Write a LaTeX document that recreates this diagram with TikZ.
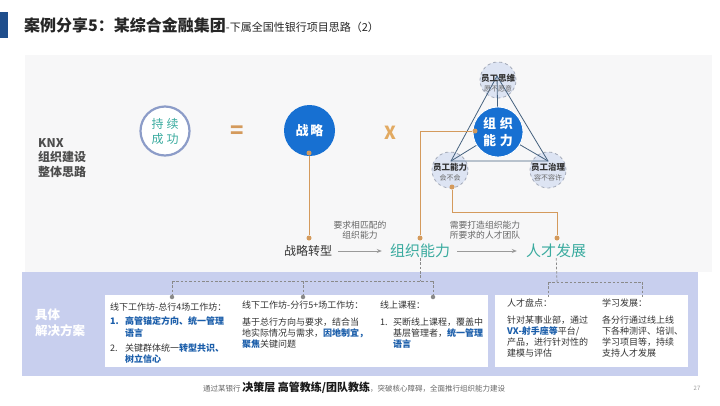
\documentclass[tikz,border=0pt]{standalone}
\usepackage{fontspec}
\setmainfont{Noto Sans CJK SC}
\usetikzlibrary{arrows.meta}
\definecolor{titleblue}{HTML}{1F4E8C}
\definecolor{bggray}{HTML}{F7F7F8}
\definecolor{ringblue}{HTML}{8C9CC8}
\definecolor{tealc}{HTML}{3AAB9F}
\definecolor{tanc}{HTML}{D49A5C}
\definecolor{xtan}{HTML}{E2AA62}
\definecolor{stratblue}{HTML}{1770D2}
\definecolor{dashgray}{HTML}{A3A9B8}
\definecolor{lightblue}{HTML}{DDE4F3}
\definecolor{triline}{HTML}{46627F}
\definecolor{bandc}{HTML}{C8CFEE}
\definecolor{tblue}{HTML}{1B5EAA}
\definecolor{txtc}{HTML}{333333}
\definecolor{labgray}{HTML}{4D4D4D}
\definecolor{arrgray}{HTML}{9A9A9A}
\definecolor{dlgray}{HTML}{8A8A8A}
\begin{document}
\begin{tikzpicture}[x=1pt,y=-1pt,
  tanline/.style={draw=tanc, line width=1pt},
  tandot/.style={circle, fill=tanc, inner sep=0pt, minimum size=5pt},
  graydot/.style={circle, fill=dlgray, inner sep=0pt, minimum size=4.5pt},
  dline/.style={draw=dlgray, line width=0.7pt, dash pattern=on 2.5pt off 1.8pt},
  garrow/.style={draw=arrgray, line width=0.7pt, -{Stealth[length=5pt,width=4pt]}},
  tx/.style={anchor=west, inner sep=0pt, font=\fontsize{9}{11}\selectfont, text=txtc},
  dcirc/.style={circle, draw=dashgray, dashed, line width=0.8pt, fill=lightblue, minimum size=36pt, inner sep=0pt},
  ctxt/.style={align=center, inner sep=0pt, text=txtc, font=\fontsize{8.5}{10.5}\selectfont\bfseries},
  trl/.style={draw=triline, line width=0.8pt}
]
\useasboundingbox (0,0) rectangle (720,405);
\fill[white] (0,0) rectangle (720,405);
\fill[bggray] (25,55) rectangle (712,272);

% title
\fill[titleblue] (0,12) rectangle (8,38);
\node[anchor=west, inner sep=0pt, text=black!85] (title) at (24,25)
  {\fontsize{16}{18}\selectfont\bfseries 案例分享5：某综合金融集团\fontsize{11}{13}\selectfont\mdseries -下属全国性银行项目思路（2）};

% left label
\node[anchor=west, align=left, inner sep=0pt, text=labgray, font=\fontsize{12}{14.5}\selectfont\bfseries] (knx) at (38,158) {KNX\\组织建设\\整体思路};

% equation row
\node[circle, draw=ringblue, line width=2.2pt, fill=white, minimum size=49pt, inner sep=0pt, text=tealc, align=center, font=\fontsize{12}{15}\selectfont] (cs) at (165,131) {持\hspace{3pt}续\\成\hspace{3pt}功};
\node[text=tanc, inner sep=0pt, font=\fontsize{22}{22}\selectfont\bfseries] (eq) at (237,132) {=};
\node[circle, fill=stratblue, minimum size=51pt, inner sep=0pt, text=white, font=\fontsize{13}{15}\selectfont\bfseries] (zl) at (309.5,130.5) {战\hspace{2pt}略};
\node[text=xtan, inner sep=0pt, font=\fontsize{18}{18}\selectfont\bfseries] (xx) at (390,133) {X};

% triangle model
\node[dcirc] (ctop) at (498,80) {};
\node[dcirc] (cbl) at (450,170) {};
\node[dcirc] (cbr) at (548,170) {};
\coordinate (tv) at (497,76);
\coordinate (lv) at (451,161);
\coordinate (rv) at (548,161);
\draw[trl] (tv) -- (lv) -- (rv) -- cycle;
\draw[trl] (tv) -- (498,132);
\draw[trl] (lv) -- (498,132);
\draw[trl] (rv) -- (498,132);
\node[circle, fill=stratblue, draw=white, line width=0.8pt, minimum size=50pt, inner sep=0pt, text=white, align=center, font=\fontsize{13}{17}\selectfont\bfseries] (cc) at (498,132) {组\hspace{4pt}织\\能\hspace{4pt}力};
\node[ctxt] (ttop) at (498,83) {员工思维\\{\fontsize{7}{9}\selectfont\mdseries\color{black!60}愿不愿意}};
\node[ctxt] (tbl) at (450,172) {员工能力\\{\fontsize{7}{9}\selectfont\mdseries\color{black!60}会不会}};
\node[ctxt] (tbr) at (548,172) {员工治理\\{\fontsize{7}{9}\selectfont\mdseries\color{black!60}容不容许}};

% tan connectors
\node[tandot] (d1) at (309,153) {};
\node[tandot] (d2) at (309,238) {};
\draw[tanline] (d1) -- (d2);
\node[tandot] (d3) at (475,131) {};
\node[tandot] (d4) at (420,238) {};
\draw[tanline] (d3) -| (d4);
\node[tandot] (d5) at (452,187) {};
\node[tandot] (d6) at (557,238) {};
\coordinate (k1) at (452,212);
\draw[tanline] (d5) -- (k1) -| (d6);

% process row
\node[inner sep=0pt, text=txtc, font=\fontsize{12}{14}\selectfont] (zlzx) at (308,251) {战略转型};
\node[inner sep=0pt, text=tealc, font=\fontsize{15}{17}\selectfont] (zznl) at (420,251) {组织能力};
\node[inner sep=0pt, text=tealc, font=\fontsize{15}{17}\selectfont] (rcfz) at (556,251) {人才发展};
\draw[garrow, shorten <=6pt, shorten >=8pt] (zlzx) -- (zznl);
\draw[garrow, shorten <=7pt, shorten >=9pt] (zznl) -- (rcfz);
\node[align=center, inner sep=0pt, text=black!60, font=\fontsize{8.8}{10}\selectfont] (l1) at (360,230) {要求相匹配的\\组织能力};
\node[align=center, inner sep=0pt, text=black!60, font=\fontsize{8.8}{10}\selectfont] (l2) at (485,230) {需要打造组织能力\\所要求的人才团队};

% band
\fill[bandc] (22,272) rectangle (698,376);
\fill[white] (105,295) rectangle (488,367);
\fill[white] (495,295) rectangle (688,367);
\node[anchor=west, align=left, inner sep=0pt, text=white, font=\fontsize{12.5}{16}\selectfont\bfseries] (jt) at (35,323) {具体\\解决方案};

% dashed connectors
\coordinate (a0) at (420,281);
\coordinate (h1) at (172,281);
\coordinate (h2) at (433,281);
\coordinate (h3) at (303,281);
\node[graydot] (g1) at (172,297) {};
\node[graydot] (g2) at (303,297) {};
\node[graydot] (g3) at (433,297) {};
\draw[dline] (zznl) -- (a0);
\draw[dline] (h1) -- (h2);
\draw[dline] (h1) -- (g1);
\draw[dline] (h3) -- (g2);
\draw[dline] (h2) -- (g3);
\coordinate (b0) at (557,282);
\coordinate (b1) at (548,282);
\coordinate (b2) at (642,282);
\coordinate (b3) at (548,297);
\coordinate (b4) at (642,297);
\draw[dline] (rcfz) -- (b0);
\draw[dline] (b1) -- (b2);
\draw[dline] (b1) -- (b3);
\draw[dline] (b2) -- (b4);

% column 1
\node[tx] (c1h) at (110,307) {线下工作坊-总行4场工作坊：};
\node[tx] (c1n1) at (110,321) {\textcolor{tblue}{\bfseries 1.}};
\node[tx] (c1a) at (125,321) {\textcolor{tblue}{\bfseries 高管锚定方向、统一管理}};
\node[tx] (c1b) at (125,333) {\textcolor{tblue}{\bfseries 语言}};
\node[tx] (c1n2) at (110,348) {2.};
\node[tx] (c1c) at (125,348) {关键群体统一\textcolor{tblue}{\bfseries 转型共识、}};
\node[tx] (c1d) at (125,359) {\textcolor{tblue}{\bfseries 树立信心}};
% column 2
\node[tx] (c2h) at (242,305) {线下工作坊-分行5+场工作坊：};
\node[tx] (c2a) at (242,322) {基于总行方向与要求，结合当};
\node[tx] (c2b) at (242,333) {地实际情况与需求，\textcolor{tblue}{\bfseries 因地制宜，}};
\node[tx] (c2c) at (242,344) {\textcolor{tblue}{\bfseries 聚焦}关键问题};
% column 3
\node[tx] (c3h) at (380,305) {线上课程：};
\node[tx] (c3n) at (380,322) {1.};
\node[tx] (c3a) at (393,322) {买断线上课程，覆盖中};
\node[tx] (c3b) at (393,333) {基层管理者，\textcolor{tblue}{\bfseries 统一管理}};
\node[tx] (c3c) at (393,344) {\textcolor{tblue}{\bfseries 语言}};
% box 2
\node[tx] (r1h) at (507,303) {人才盘点：};
\node[tx] (r1a) at (507,320) {针对某事业部，通过};
\node[tx] (r1b) at (507,331) {\textcolor{tblue}{\bfseries VX-射手座等}平台/};
\node[tx] (r1c) at (507,342) {产品，进行针对性的};
\node[tx] (r1d) at (507,353) {建模与评估};
\node[tx] (r2h) at (602,303) {学习发展：};
\node[tx] (r2a) at (602,320) {各分行通过线上线};
\node[tx] (r2b) at (602,331) {下各种测评、培训、};
\node[tx] (r2c) at (602,342) {学习项目等，持续};
\node[tx] (r2d) at (602,353) {支持人才发展};

% footer
\node[anchor=west, inner sep=0pt, text=black!60] (foot) at (203,388)
  {\fontsize{7.5}{9}\selectfont 通过某银行 {\color{black!90}\fontsize{11}{13}\selectfont\bfseries 决策层 高管教练/团队教练}，突破核心障碍，全面推行组织能力建设};
\node[inner sep=0pt, text=black!40, font=\fontsize{6}{7}\selectfont] (pg) at (697,388) {27};
\end{tikzpicture}
\end{document}
